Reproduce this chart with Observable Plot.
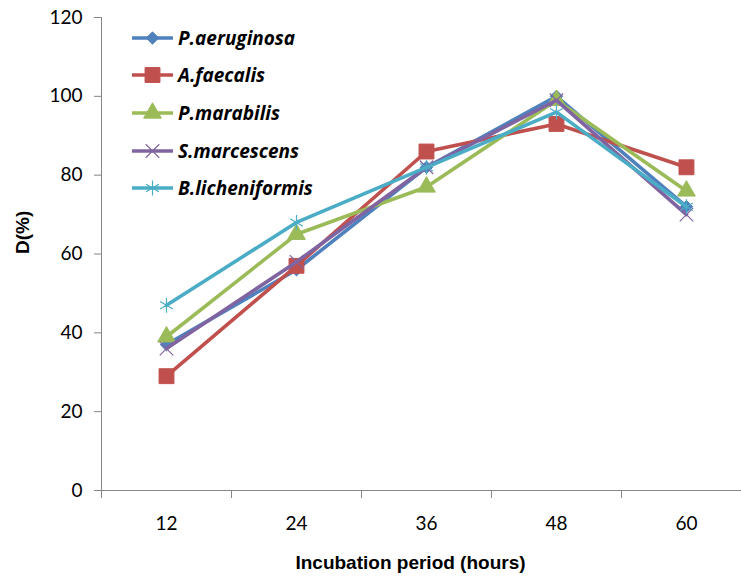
<!DOCTYPE html>
<html>
<head>
<meta charset="utf-8">
<script src="https://cdn.jsdelivr.net/npm/d3@7"></script>
<script src="https://cdn.jsdelivr.net/npm/@observablehq/plot@0.6"></script>
<style>
  html, body { margin: 0; padding: 0; background: #fff; }
  #wrap { position: relative; width: 741px; height: 579px; overflow: hidden; }
  #legend { position: absolute; left: 131px; top: 19px; font-family: "Open Sans", sans-serif; font-weight: 700; font-style: italic; font-size: 19px; color: #000; }
  .row { display: flex; align-items: center; height: 37.6px; }
  .row svg { margin-right: 3px; }
</style>
</head>
<body>
<div id="wrap"><div id="legend"></div></div>
<script>
const categories = [12, 24, 36, 48, 60];
const seriesNames = ["P.aeruginosa", "A.faecalis", "P.marabilis", "S.marcescens", "B.licheniformis"];
const pAeruginosa = [37, 56, 82, 100, 72];
const aFaecalis = [29, 57, 86, 93, 82];
const pMarabilis = [39, 65, 77, 99, 76];
const sMarcescens = [36, 58, 82, 99, 70];
const bLicheniformis = [47, 68, 82, 96, 72];
const yTicks = [0, 20, 40, 60, 80, 100, 120];
const xTickMarks = [6, 18, 30, 42, 54, 66];
const xTitle = ["Incubation period (hours)"];
const yTitle = ["D(%)"];

const values = [pAeruginosa, aFaecalis, pMarabilis, sMarcescens, bLicheniformis];
const colors = ["#4F81BD", "#C0504D", "#9BBB59", "#8064A2", "#4BACC6"];
const symbols = ["diamond2", "square", "triangle", "times", "asterisk"];
const radii = [5.6, 8.4, 6.6, 6.2, 7];
const filled = [true, true, true, false, false];

const rows = seriesNames.flatMap((s, i) => categories.map((c, j) => ({series: s, x: c, y: values[i][j]})));

const marks = [
  Plot.ruleY([0], {stroke: "#868686", strokeWidth: 1}),
  Plot.ruleX([6], {y1: 0, y2: 120, stroke: "#868686", strokeWidth: 1}),
  Plot.axisY({ticks: yTicks, tickSize: 7, tickPadding: 12, stroke: "#868686", fill: "#000", fontSize: 19, fontFamily: "Lato", label: null}),
  Plot.axisX({ticks: xTickMarks, tickSize: 8, tickFormat: () => "", stroke: "#868686", label: null}),
  Plot.axisX({ticks: categories, tickSize: 0, tickPadding: 26, fill: "#000", fontSize: 19, fontFamily: "Lato", label: null}),
  Plot.text(xTitle, {frameAnchor: "bottom", dx: -11, dy: 78, fontWeight: "bold", fontSize: 19, fontFamily: "Liberation Sans, Arial, sans-serif", fill: "#000"}),
  Plot.text(yTitle, {frameAnchor: "left", dx: -79, rotate: -90, fontWeight: "bold", fontSize: 19, fontFamily: "Liberation Sans, Arial, sans-serif", fill: "#000"})
];

seriesNames.forEach((s, i) => {
  const d = rows.filter(r => r.series === s);
  marks.push(Plot.line(d, {x: "x", y: "y", stroke: colors[i], strokeWidth: 3.6, strokeLinejoin: "round"}));
  marks.push(Plot.dot(d, {
    x: "x", y: "y", symbol: () => symbols[i], r: radii[i],
    fill: filled[i] ? colors[i] : "none",
    stroke: colors[i], strokeWidth: filled[i] ? 1 : 1.2
  }));
});

const chart = Plot.plot({
  width: 741,
  height: 579,
  marginLeft: 101,
  marginRight: 0,
  marginTop: 17,
  marginBottom: 89,
  style: {background: "#fff", overflow: "visible"},
  x: {type: "linear", domain: [6, 65.08], axis: null},
  y: {domain: [0, 120], axis: null},
  symbol: {type: "identity"},
  marks
});
document.getElementById("wrap").prepend(chart);

// Legend
const legend = d3.select("#legend");
const symMap = {diamond2: d3.symbolDiamond2, square: d3.symbolSquare, triangle: d3.symbolTriangle, times: d3.symbolTimes, asterisk: d3.symbolAsterisk};
seriesNames.forEach((s, i) => {
  const row = legend.append("div").attr("class", "row");
  const svg = row.append("svg").attr("width", 44).attr("height", 22);
  svg.append("line").attr("x1", 1).attr("x2", 42).attr("y1", 11).attr("y2", 11)
    .attr("stroke", colors[i]).attr("stroke-width", 3.6);
  svg.append("path")
    .attr("transform", "translate(21.5,11)")
    .attr("d", d3.symbol(symMap[symbols[i]], Math.PI * radii[i] * radii[i])())
    .attr("fill", filled[i] ? colors[i] : "none")
    .attr("stroke", colors[i]).attr("stroke-width", filled[i] ? 1 : 1.2);
  row.append("span").text(s);
});
</script>
</body>
</html>
